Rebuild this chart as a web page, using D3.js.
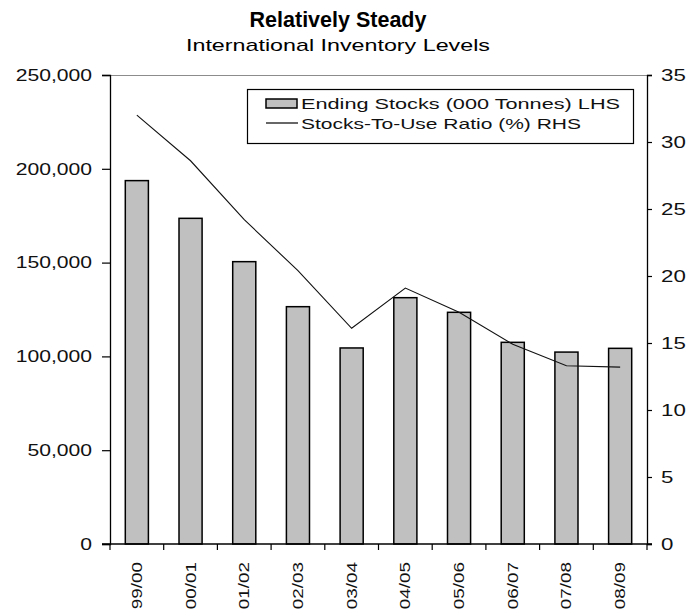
<!DOCTYPE html>
<html>
<head>
<meta charset="utf-8">
<script src="https://cdn.jsdelivr.net/npm/d3@7"></script>
<style>
  html, body { margin: 0; padding: 0; background: #fff; }
  svg { display: block; font-family: "Liberation Sans", Arial, sans-serif; }
</style>
</head>
<body>
<svg id="chart" width="699" height="616"></svg>
<script>
// Crop years
const seasons = ["99/00", "00/01", "01/02", "02/03", "03/04", "04/05", "05/06", "06/07", "07/08", "08/09"];
// Ending stocks, thousand tonnes (left axis)
const endingStocks = [193700, 173600, 150500, 126500, 104500, 131300, 123500, 107500, 102300, 104300];
// Stocks-to-use ratio, percent (right axis)
const stocksToUse = [32.0, 28.6, 24.2, 20.4, 16.1, 19.1, 17.3, 14.9, 13.3, 13.2];
// Axis ticks
const leftTicks = [0, 50000, 100000, 150000, 200000, 250000];
const rightTicks = [0, 5, 10, 15, 20, 25, 30, 35];

const svg = d3.select("#chart");
const margin = { top: 75, right: 52, bottom: 72, left: 110 };
const W = +svg.attr("width"), H = +svg.attr("height");
const x0 = margin.left, x1 = W - margin.right;
const y0 = H - margin.bottom, y1 = margin.top;

// Text is drawn slightly wide, as in the old spreadsheet export
function stretch(sel, k) {
  sel.each(function () {
    const len = this.getComputedTextLength();
    d3.select(this).attr("textLength", len * k).attr("lengthAdjust", "spacingAndGlyphs");
  });
}

const x = d3.scaleBand().domain(seasons).range([x0, x1]).paddingInner(0.57).paddingOuter(0.285);
const yL = d3.scaleLinear().domain([0, 250000]).range([y0, y1]);
const yR = d3.scaleLinear().domain([0, 35]).range([y0, y1]);

// Top frame line
svg.append("line")
  .attr("x1", x0).attr("x2", x1).attr("y1", y1 + 0.5).attr("y2", y1 + 0.5)
  .attr("stroke", "#8c8c8c").attr("stroke-width", 1.2);

// Bars
svg.append("g").selectAll("rect").data(endingStocks).join("rect")
  .attr("x", (d, i) => x(seasons[i]))
  .attr("y", d => yL(d))
  .attr("width", x.bandwidth())
  .attr("height", d => y0 - yL(d))
  .attr("fill", "#c0c0c0")
  .attr("stroke", "#000")
  .attr("stroke-width", 1.5);

// Ratio line
const line = d3.line()
  .x((d, i) => x(seasons[i]) + x.bandwidth() / 2)
  .y(d => yR(d));
svg.append("path").datum(stocksToUse)
  .attr("d", line)
  .attr("fill", "none")
  .attr("stroke", "#111")
  .attr("stroke-width", 1.1);

// Left axis
const gL = svg.append("g").attr("transform", `translate(${x0},0)`)
  .call(d3.axisLeft(yL).tickValues(leftTicks).tickFormat(d3.format(",")).tickSize(8).tickPadding(10));
// Right axis
const gR = svg.append("g").attr("transform", `translate(${x1},0)`)
  .call(d3.axisRight(yR).tickValues(rightTicks).tickSize(5).tickPadding(9));
[gL, gR].forEach(g => {
  g.select(".domain").attr("stroke", "#000").attr("stroke-width", 1.3);
  g.selectAll(".tick line").attr("stroke", "#000").attr("stroke-width", 1.2);
  g.selectAll(".tick text")
    .attr("font-family", "Liberation Sans, Arial, sans-serif")
    .attr("font-size", 16.5).attr("fill", "#111");
});
gL.selectAll(".tick text").call(stretch, 1.28);
gR.selectAll(".tick text").call(stretch, 1.35);

// Category axis: baseline plus boundary ticks between seasons
const gX = svg.append("g");
gX.append("line")
  .attr("x1", x0 - 8).attr("x2", x1 + 5).attr("y1", y0).attr("y2", y0)
  .attr("stroke", "#000").attr("stroke-width", 1.3);
gX.selectAll("line.tk").data(d3.range(seasons.length + 1)).join("line")
  .attr("class", "tk")
  .attr("x1", i => x0 + i * x.step()).attr("x2", i => x0 + i * x.step())
  .attr("y1", y0).attr("y2", y0 + 6)
  .attr("stroke", "#000").attr("stroke-width", 1.2);
const xl = gX.selectAll("text").data(seasons).join("text")
  .attr("transform", d => `translate(${x(d) + x.bandwidth() / 2 + 5},${y0 + 18}) rotate(-90)`)
  .attr("text-anchor", "end")
  .attr("font-size", 14.5)
  .attr("fill", "#111")
  .text(d => d);
xl.call(stretch, 1.3);

// Titles
svg.append("text").attr("x", 338).attr("y", 27).attr("text-anchor", "middle")
  .attr("font-size", 21.5).attr("font-weight", "bold").attr("fill", "#000")
  .text("Relatively Steady");
svg.append("text").attr("x", 338).attr("y", 51).attr("text-anchor", "middle")
  .attr("font-size", 17).attr("fill", "#000")
  .text("International Inventory Levels")
  .attr("textLength", 304).attr("lengthAdjust", "spacingAndGlyphs");

// Legend
const lg = svg.append("g");
lg.append("rect").attr("x", 247.5).attr("y", 89.5).attr("width", 386).attr("height", 54)
  .attr("fill", "#fff").attr("stroke", "#000").attr("stroke-width", 1.2);
lg.append("rect").attr("x", 266).attr("y", 99).attr("width", 31).attr("height", 9)
  .attr("fill", "#c0c0c0").attr("stroke", "#000").attr("stroke-width", 1.5);
lg.append("line").attr("x1", 266).attr("x2", 298).attr("y1", 123).attr("y2", 123)
  .attr("stroke", "#000").attr("stroke-width", 1.2);
lg.append("text").attr("x", 301).attr("y", 109).attr("font-size", 15).attr("fill", "#111")
  .text("Ending Stocks (000 Tonnes) LHS").attr("textLength", 319).attr("lengthAdjust", "spacingAndGlyphs");
lg.append("text").attr("x", 301).attr("y", 129).attr("font-size", 15).attr("fill", "#111")
  .text("Stocks-To-Use Ratio (%) RHS").attr("textLength", 280).attr("lengthAdjust", "spacingAndGlyphs");
</script>
</body>
</html>
